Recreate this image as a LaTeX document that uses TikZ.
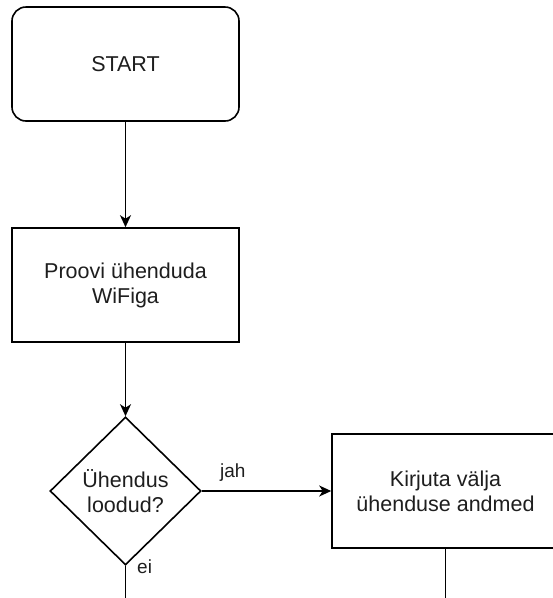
\documentclass[tikz,border=0pt]{standalone}
\usepackage{fontspec}
\setmainfont{Liberation Sans}
\usetikzlibrary{arrows.meta,shapes.geometric}
\definecolor{txt}{HTML}{1E1E1E}
\tikzset{
  box/.style={draw=black, line width=1.6pt, fill=white, minimum width=227pt, minimum height=114pt, align=center, text=txt, font=\fontsize{21.5}{25}\selectfont, inner sep=0pt},
  rbox/.style={box, rounded corners=14pt},
  decision/.style={draw=black, line width=1.6pt, fill=white, diamond, aspect=1, minimum width=151pt, minimum height=148pt, inner sep=0pt, align=center, text=txt, font=\fontsize{21.5}{25}\selectfont},
  conn/.style={line width=1.6pt, -{Stealth[length=12pt,width=11pt,inset=3.5pt]}},
  plain/.style={line width=1.6pt},
  lbl/.style={text=txt, font=\fontsize{19}{22}\selectfont, inner sep=0pt}
}
\begin{document}
\begin{tikzpicture}[x=1pt,y=-1pt]
\useasboundingbox (0,0) rectangle (553,598);
\clip (0,0) rectangle (553,598);
\node[rbox] (start) at (125.5,64) {START};
\node[box] (proovi) at (125.5,285) {Proovi ühenduda\\WiFiga};
\node[decision] (uh) at (125.5,491) {Ühendus\\loodud?};
\node[box] (kirj) at (445.5,491) {Kirjuta välja\\ühenduse andmed};
\coordinate (eiend) at (125.5,600);
\coordinate (kend) at (445.5,600);
\draw[conn] (start) -- (proovi);
\draw[conn] (proovi) -- (uh);
\draw[conn] (uh.east) -- (kirj.west);
\draw[plain] (uh.south) -- (eiend);
\draw[plain] (kirj.south) -- (kend);
\node[lbl, anchor=base west] (jah) at (220,477) {jah};
\node[lbl, anchor=base west] (ei) at (137,573) {ei};
\end{tikzpicture}
\end{document}
